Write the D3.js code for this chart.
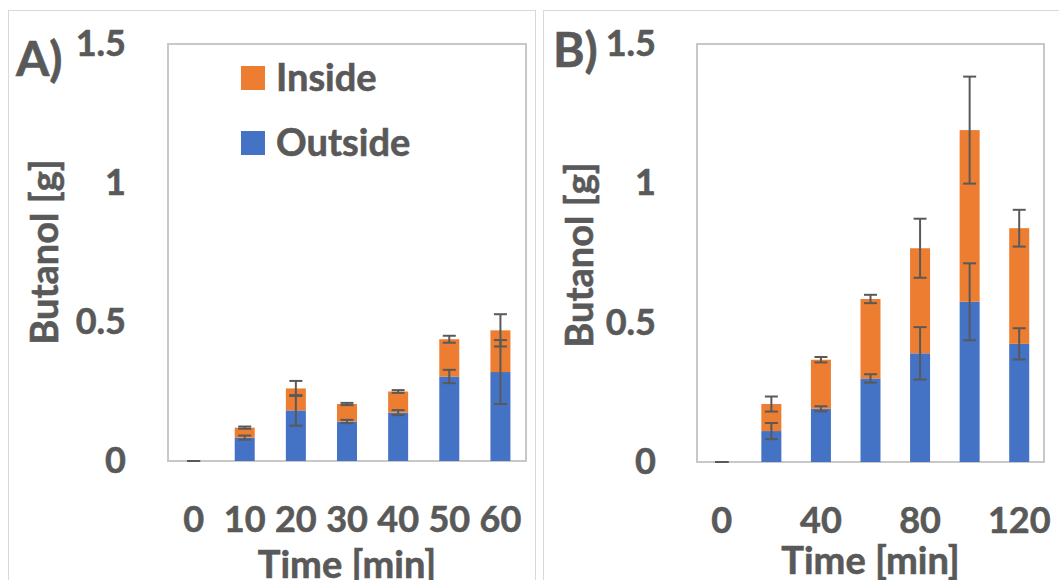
<!DOCTYPE html>
<html>
<head>
<meta charset="utf-8">
<script src="https://cdn.jsdelivr.net/npm/d3@7/dist/d3.min.js"></script>
<style>
  html, body { margin: 0; padding: 0; background: #fff; }
  text { font-family: Lato, "Open Sans", sans-serif; font-weight: 700; fill: #595959;
         stroke: #595959; stroke-width: 0.6px; }
</style>
</head>
<body>
<svg id="chart" width="1059" height="580"></svg>
<script>
// ---------- data ----------
const yTicks = [0, 0.5, 1, 1.5];
const seriesNames = ["Inside", "Outside"];

const catsA = [0, 10, 20, 30, 40, 50, 60];
const tickLabelsA = [0, 10, 20, 30, 40, 50, 60];
const outsideA = [0, 0.084, 0.182, 0.142, 0.174, 0.304, 0.320];
const outsideErrA = [0, 0.0075, 0.055, 0.006, 0.009, 0.024, 0.115];
const insideA = [0, 0.036, 0.079, 0.063, 0.076, 0.134, 0.150];
const insideErrA = [0, 0.004, 0.027, 0.004, 0.005, 0.0125, 0.058];

const catsB = [0, 20, 40, 60, 80, 100, 120];
const tickLabelsB = [0, 40, 80, 120];
const outsideB = [0, 0.111, 0.191, 0.300, 0.390, 0.575, 0.424];
const outsideErrB = [0, 0.029, 0.009, 0.015, 0.094, 0.138, 0.056];
const insideB = [0, 0.097, 0.176, 0.285, 0.377, 0.616, 0.415];
const insideErrB = [0, 0.027, 0.0097, 0.015, 0.106, 0.192, 0.066];

// ---------- drawing ----------
const COL_IN = "#ED7D31", COL_OUT = "#4472C4", TXT = "#595959", ERR = "#595959";
const svg = d3.select("#chart");
svg.append("rect").attr("width", 1059).attr("height", 580).attr("fill", "#fff");

// panel frames
svg.append("rect").attr("x", 8.5).attr("y", 10.5).attr("width", 527).attr("height", 600)
  .attr("fill", "none").attr("stroke", "#d9d9d9").attr("stroke-width", 1);
svg.append("rect").attr("x", 543.5).attr("y", 10.5).attr("width", 600).attr("height", 600)
  .attr("fill", "none").attr("stroke", "#d9d9d9").attr("stroke-width", 1);

function panel(cfg) {
  const g = svg.append("g");
  const x = d3.scaleBand().domain(cfg.cats).range([cfg.left, cfg.right]).paddingInner(0.6).paddingOuter(0.3);
  const y = d3.scaleLinear().domain([0, 1.5]).range([cfg.bottom, cfg.top]);
  const bw = 20;
  const cx = d => x(d) + x.bandwidth() / 2;

  // plot area border
  g.append("rect").attr("x", cfg.left).attr("y", cfg.top)
    .attr("width", cfg.right - cfg.left).attr("height", cfg.bottom - cfg.top)
    .attr("fill", "none").attr("stroke", "#c8c8c8").attr("stroke-width", 2);

  const rows = cfg.cats.map((c, i) => ({
    c, out: cfg.outside[i], outErr: cfg.outsideErr[i],
    ins: cfg.inside[i], insErr: cfg.insideErr[i]
  }));

  // stacked bars
  const stack = d3.stack().keys(["out", "ins"])(rows);
  const colors = { out: COL_OUT, ins: COL_IN };
  stack.forEach(layer => {
    g.append("g").selectAll("rect").data(layer).join("rect")
      .attr("x", d => cx(d.data.c) - bw / 2)
      .attr("width", bw)
      .attr("y", d => y(d[1]))
      .attr("height", d => Math.max(0, y(d[0]) - y(d[1])))
      .attr("fill", colors[layer.key]);
  });

  // error bars
  const capW = 13;
  const errs = [];
  rows.forEach(r => {
    errs.push({ c: r.c, v: r.out, e: r.outErr });
    errs.push({ c: r.c, v: r.out + r.ins, e: r.insErr });
  });
  const eg = g.append("g").attr("stroke", ERR);
  eg.selectAll("line.stem").data(errs).join("line").attr("class", "stem")
    .attr("x1", d => cx(d.c)).attr("x2", d => cx(d.c))
    .attr("y1", d => y(d.v - d.e)).attr("y2", d => y(d.v + d.e))
    .attr("stroke-width", 2);
  eg.selectAll("line.capT").data(errs).join("line").attr("class", "capT")
    .attr("x1", d => cx(d.c) - capW / 2).attr("x2", d => cx(d.c) + capW / 2)
    .attr("y1", d => y(d.v + d.e)).attr("y2", d => y(d.v + d.e))
    .attr("stroke-width", 2);
  eg.selectAll("line.capB").data(errs).join("line").attr("class", "capB")
    .attr("x1", d => cx(d.c) - capW / 2).attr("x2", d => cx(d.c) + capW / 2)
    .attr("y1", d => y(d.v - d.e)).attr("y2", d => y(d.v - d.e))
    .attr("stroke-width", 2);

  // y axis labels
  const ya = d3.axisLeft(y).tickValues(yTicks).tickSize(0).tickPadding(0).tickFormat(d => String(d));
  const yg = g.append("g").attr("transform", `translate(${cfg.yLabelX},0)`).call(ya);
  yg.select(".domain").remove();
  yg.selectAll("text").attr("font-size", 36).attr("fill", TXT)
    .style("font-family", "Lato, 'Open Sans', sans-serif").style("font-weight", 700);

  // x axis labels
  const xa = d3.axisBottom(x).tickValues(cfg.tickLabels).tickSize(0).tickPadding(0).tickFormat(d => String(d));
  const xg = g.append("g").attr("transform", `translate(0,${cfg.xLabelY})`).call(xa);
  xg.select(".domain").remove();
  xg.selectAll("text").attr("font-size", 36).attr("fill", TXT).attr("dy", null)
    .attr("dominant-baseline", "central")
    .style("font-family", "Lato, 'Open Sans', sans-serif").style("font-weight", 700);

  // titles
  g.append("text").attr("x", (cfg.left + cfg.right) / 2).attr("y", cfg.xTitleY)
    .attr("text-anchor", "middle").attr("font-size", 38).text("Time [min]");
  g.append("text").attr("transform", `translate(${cfg.yTitleX},${cfg.yTitleY}) rotate(-90)`)
    .attr("text-anchor", "middle").attr("dominant-baseline", "central")
    .attr("font-size", 38).text("Butanol [g]");
  g.append("text").attr("x", cfg.letterX).attr("y", cfg.letterY)
    .attr("font-size", 48).text(cfg.letter);
}

panel({
  cats: catsA, tickLabels: tickLabelsA,
  outside: outsideA, outsideErr: outsideErrA, inside: insideA, insideErr: insideErrA,
  left: 168, right: 526, top: 44, bottom: 461,
  yLabelX: 126, xLabelY: 518, xTitleY: 578, yTitleX: 43, yTitleY: 252,
  letter: "A)", letterX: 16, letterY: 76
});
panel({
  cats: catsB, tickLabels: tickLabelsB,
  outside: outsideB, outsideErr: outsideErrB, inside: insideB, insideErr: insideErrB,
  left: 697, right: 1044, top: 44, bottom: 462,
  yLabelX: 656, xLabelY: 519, xTitleY: 574, yTitleX: 578, yTitleY: 255,
  letter: "B)", letterX: 553, letterY: 67
});

// legend (panel A)
const legend = svg.append("g");
const legColors = [COL_IN, COL_OUT];
const legY = [66, 131];
seriesNames.forEach((name, i) => {
  legend.append("rect").attr("x", 241).attr("y", legY[i]).attr("width", 24).attr("height", 24)
    .attr("fill", legColors[i]);
  legend.append("text").attr("x", 276).attr("y", legY[i] + 25)
    .attr("font-size", 38).text(name);
});
</script>
</body>
</html>
